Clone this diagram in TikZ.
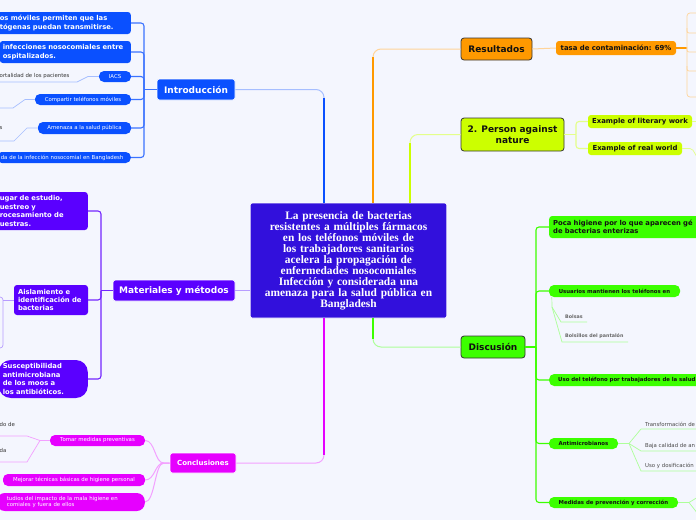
\documentclass[tikz,border=0pt]{standalone}
\usepackage{fontspec}
\usepackage{tikz}
\usetikzlibrary{calc}
\newfontfamily\mapsans{DejaVu Sans}
\newfontfamily\mapserif{Liberation Serif}
\newcommand{\fsz}[2]{\fontsize{#1pt}{#2pt}\selectfont}
\definecolor{paper}{HTML}{F4F6FE}
\definecolor{core}{HTML}{3210DC}
\definecolor{blu}{HTML}{0A50FF}
\definecolor{blul}{HTML}{A6BEFF}
\definecolor{vio}{HTML}{5A00FF}
\definecolor{viol}{HTML}{B79CFF}
\definecolor{mag}{HTML}{E600FF}
\definecolor{magl}{HTML}{F3A0FF}
\definecolor{ora}{HTML}{FF9900}
\definecolor{oral}{HTML}{FFD49A}
\definecolor{yel}{HTML}{CCFF00}
\definecolor{yell}{HTML}{E4FF8A}
\definecolor{grn}{HTML}{3CFF00}
\definecolor{grnl}{HTML}{ADFF99}
\definecolor{ink}{HTML}{111111}
\definecolor{leafgray}{HTML}{4A4A4A}
\tikzset{
  core/.style={fill=core, draw=white, line width=0.8pt, rounded corners=2pt, text=white, font=\mapserif\bfseries\fsz{11.4}{11}, align=center},
  topic/.style={draw=white, line width=0.6pt, rounded corners=2.5pt, inner sep=0pt, text=white, font=\mapsans\bfseries\fsz{9}{10}},
  topicdk/.style={draw=ink!85, line width=0.8pt, rounded corners=3pt, inner sep=0pt, text=ink, font=\mapsans\bfseries\fsz{9}{11}, align=center},
  subbox/.style={rounded corners=3pt, inner xsep=3pt, inner ysep=0pt, text=white, align=left, font=\mapsans\bfseries\fsz{6.8}{8.4}},
  pill/.style={rounded corners=5pt, inner sep=0pt, text=white, font=\mapsans\fsz{5.4}{6.5}},
  pilldk/.style={pill, text=ink, font=\mapsans\bfseries\fsz{5.4}{6.5}},
  tag/.style={rounded corners=3pt, inner sep=0pt, text=ink, font=\mapsans\bfseries\fsz{6.9}{8}},
  leaf/.style={inner sep=0pt, anchor=west, text=leafgray, font=\mapsans\fsz{5.4}{6.5}},
  trunk/.style={line width=1.1pt, rounded corners=3pt},
  twig/.style={line width=0.7pt},
}
\begin{document}
\begin{tikzpicture}[x=1pt,y=-1pt]
  \useasboundingbox (0,0) rectangle (696,520);
  \fill[paper] (0,0) rectangle (696,520);
  \clip (0,0) rectangle (696,520);

  % central topic
  \node[core, minimum width=195pt, minimum height=115pt, text width=190pt] (ctr) at (348.5,260.5)
    {La presencia de bacterias\\resistentes a múltiples fármacos\\en los teléfonos móviles de\\los trabajadores sanitarios\\acelera la propagación de\\enfermedades nosocomiales\\Infección y considerada una\\amenaza para la salud pública en\\Bangladesh};

  % main topics
  \node[topic, fill=blu, minimum width=78pt, minimum height=21pt] (intro) at (196,89.5) {Introducción};
  \node[topic, fill=vio, minimum width=122pt, minimum height=21pt] (mat) at (174,290.5) {Materiales y métodos};
  \node[topic, fill=mag, minimum width=66pt, minimum height=20pt, font=\mapsans\bfseries\fsz{7}{8}] (concl) at (203,463) {Conclusiones};
  \node[topicdk, fill=ora, minimum width=71pt, minimum height=22pt] (res) at (496.5,49) {Resultados};
  \node[topicdk, fill=yel, minimum width=103pt, minimum height=33pt] (pers) at (512.5,134.5) {2. Person against\\nature};
  \node[topicdk, fill=grn, minimum width=64pt, minimum height=22pt] (disc) at (493,347) {Discusión};

  \coordinate (cIn) at ([xshift=-24.5pt]ctr.north);
  \coordinate (cRe) at ([xshift=24.5pt]ctr.north);
  \coordinate (cPe) at ([xshift=61.5pt]ctr.north);
  \coordinate (cCo) at ([xshift=-24.5pt]ctr.south);
  \coordinate (cDi) at ([xshift=24.5pt]ctr.south);
  \draw[blul, line width=1pt, rounded corners=8pt] (cIn) |- (intro.east);
  \draw[blu, line width=1.8pt] (cIn) -- ($(cIn |- intro.east)+(0,8)$);
  \draw[oral, line width=1pt, rounded corners=8pt] (cRe) |- (res.west);
  \draw[ora, line width=1.8pt] (cRe) -- ($(cRe |- res.west)+(0,8)$);
  \draw[yell, line width=1pt, rounded corners=8pt] (cPe) |- (pers.west);
  \draw[yel, line width=1.8pt] (cPe) -- ($(cPe |- pers.west)+(0,8)$);
  \draw[magl, line width=1pt, rounded corners=8pt] (cCo) |- (concl.east);
  \draw[mag, line width=1.8pt] (cCo) -- ($(cCo |- concl.east)+(0,-8)$);
  \draw[grnl, line width=1pt, rounded corners=8pt] (cDi) |- (disc.west);
  \draw[grn, line width=1.8pt] (cDi) -- ($(cDi |- disc.west)+(0,-8)$);
  \draw[viol, line width=1pt] (mat.east) -- (mat.east -| ctr.west);

  % Introduccion
  \node[subbox, fill=blu, anchor=east, text width=128pt, minimum height=22pt] (i1) at (131,23) {os móviles permiten que las\\tógenas puedan transmitirse.};
  \node[subbox, fill=blu, anchor=east, text width=125pt, minimum height=22pt] (i2) at (131,52) {infecciones nosocomiales entre\\ospitalizados.};
  \node[pill, fill=blu, minimum width=32pt, minimum height=11pt] (i3) at (115,76.5) {IACS};
  \node[pill, fill=blu, minimum width=96pt, minimum height=11pt] (i4) at (83,99.5) {Compartir teléfonos móviles};
  \node[pill, fill=blu, minimum width=93pt, minimum height=12pt] (i5) at (84.5,128) {Amenaza a la salud pública};
  \node[pill, fill=blu, anchor=east, text width=126pt, inner xsep=4pt, align=left, minimum height=11pt] (i6) at (131,157.5) {da de la infección nosocomial en Bangladesh};
  \coordinate (iT) at (144,89.5);
  \draw[blu!80, trunk] (intro.west) -- (iT);
  \foreach \k in {i1,i2,i3,i4,i5,i6}
    \draw[blu!80, trunk] (iT) |- (\k.east);
  \coordinate (i3x) at (-5,82);
  \coordinate (i4x) at (-5,108);
  \coordinate (i5x) at (-5,141);
  \draw[blul, twig] (i3.west) -- (88,76.5) -- (77,82) -- (i3x);
  \draw[blul, twig] (i4.west) -- (25,99.5) -- (13,108) -- (i4x);
  \draw[blul, twig] (i5.west) -- (27,128) -- (14,141) -- (i5x);
  \node[leaf, text=ink!85] (i3t) at (-0.5,76.5) {ortalidad de los pacientes};
  \node[leaf, text=ink!85] (i5t) at (-0.5,128) {s};

  % Materiales y metodos
  \node[subbox, fill=vio, anchor=east, text width=85pt, minimum height=38pt] (m1) at (88,211) {ugar de estudio,\\uestreo y\\rocesamiento de\\uestras.};
  \node[subbox, fill=vio, inner xsep=4pt, text width=66pt, minimum height=30pt] (m2) at (51,300) {Aislamiento e\\identificación de\\bacterias};
  \node[subbox, fill=vio, anchor=east, rounded corners=12pt, inner xsep=4pt, text width=81pt, minimum height=38pt] (m3) at (88,379) {Susceptibilidad\\antimicrobiana\\de los moos a\\los antibióticos.};
  \coordinate (mT) at (101,290.5);
  \draw[vio!85, trunk] (mat.west) -- (mT);
  \foreach \k in {m1,m2,m3}
    \draw[vio!85, trunk] (mT) |- (\k.east);
  \coordinate (mB) at (3,300);
  \coordinate (mB1) at (-6,297);
  \coordinate (mB2) at (-6,348);
  \draw[viol, twig] (m2.west) -- (mB);
  \draw[viol, twig, rounded corners=3pt] (mB1) -| (3,348) -- (mB2);

  % Conclusiones
  \node[pill, fill=mag, minimum width=95pt, minimum height=11pt] (c1) at (97.5,440.5) {Tomar medidas preventivas};
  \node[pill, fill=mag, minimum width=142pt, minimum height=12pt] (c2) at (74,480) {Mejorar técnicas básicas de higiene personal};
  \node[pill, fill=mag, anchor=east, rounded corners=8pt, inner xsep=10pt, text width=128pt, align=left, minimum height=18pt] (c3) at (145,502) {tudios del impacto de la mala higiene en\\comiales y fuera de ellos};
  \foreach \k in {c1,c2,c3}
    \draw[magl, line width=1pt] (concl.west) -- ++(-6,0) .. controls +(-9,0) and +(10,0) .. (\k.east);
  \coordinate (cJ) at (40,440.5);
  \coordinate (cx1) at (-5,436);
  \coordinate (cx2) at (-5,462);
  \draw[magl, twig] (c1.west) -- (cJ) -- (27,436) -- (cx1);
  \draw[magl, twig] (cJ) -- (27,462) -- (cx2);
  \node[leaf, text=ink!85] (c1a) at (-0.5,424) {do de};
  \node[leaf, text=ink!85] (c1b) at (-0.5,450) {da};

  % Resultados
  \node[tag, fill=ora, minimum width=120pt, minimum height=14pt] (r1) at (616,48) {tasa de contaminación: 69\%};
  \draw[oral, line width=1pt] (res.east) -- (r1.west);
  \coordinate (rT) at (687,48);
  \coordinate (rA) at (700,13);
  \coordinate (rE) at (700,97);
  \draw[ora, line width=1.1pt] (r1.east) -- (rT);
  \draw[oral, twig, rounded corners=3pt] (rA) -| (rT) |- (rE);
  \foreach \yy in {33,52,71}
    \draw[oral, twig, rounded corners=2pt] (687,\yy-5) |- (700,\yy);

  % Person against nature
  \node[tag, fill=yel, minimum width=104pt, minimum height=13pt] (p1) at (640,121.5) {Example of literary work};
  \node[tag, fill=yel, minimum width=94pt, minimum height=13pt] (p2) at (635,148.5) {Example of real world};
  \coordinate (pT) at (576,134.5);
  \coordinate (pA) at (700,121.5);
  \coordinate (pB) at (697,157);
  \draw[yell, line width=1pt] (pers.east) -- (pT);
  \draw[yell, trunk] (pT) |- (p1.west);
  \draw[yell, trunk] (pT) |- (p2.west);
  \draw[yell, twig] (p1.east) -- (pA);
  \draw[yell, twig, rounded corners=2pt] (p2.east) -- (692,148.5) -- (pB);

  % Discusion
  \node[subbox, fill=grn, text=ink, anchor=west, inner xsep=4pt, text width=170pt, minimum height=22pt] (d1) at (549,227) {Poca higiene por lo que aparecen gé\\de bacterias enterizas};
  \node[pilldk, fill=grn, minimum width=131pt, minimum height=12pt] (d2) at (614.5,291) {Usuarios mantienen los teléfonos en};
  \node[pilldk, fill=grn, anchor=west, inner xsep=9pt, text width=160pt, align=left, minimum height=12pt] (d3) at (549,380) {Uso del teléfono por trabajadores de la salud};
  \node[pilldk, fill=grn, minimum width=69pt, minimum height=11pt] (d4) at (583.5,443.5) {Antimicrobianos};
  \node[pilldk, fill=grn, minimum width=129pt, minimum height=11pt] (d5) at (613.5,502.5) {Medidas de prevención y corrección};
  \coordinate (dT) at (536,347);
  \draw[grn, trunk] (disc.east) -- (dT);
  \foreach \k in {d1,d2,d3,d4,d5}
    \draw[grn, trunk] (dT) |- (\k.west);
  \coordinate (dS) at (552,307);
  \coordinate (d2a) at (587,322);
  \coordinate (d2b) at (628,342);
  \draw[grnl, twig] ([xshift=3pt]d2.south west) -- (dS) -- (561,322) -- (d2a);
  \draw[grnl, twig] (dS) -- (562,342) -- (d2b);
  \node[leaf, text=black!60, font=\mapsans\bfseries\fsz{4.8}{6}] (d2at) at (565,317) {Bolsas};
  \node[leaf, text=black!60, font=\mapsans\bfseries\fsz{4.8}{6}] (d2bt) at (565,336) {Bolsillos del pantalón};
  \coordinate (dJ) at (629,443.5);
  \draw[grnl, twig] (d4.east) -- (dJ);
  \foreach \yy/\nm in {429/dx1,451/dx2,471/dx3} {
    \coordinate (\nm) at (700,\yy);
    \draw[grnl, twig] (dJ) -- (641,\yy) -- (\nm);
  }
  \node[leaf] (d4a) at (645,424) {Transformación de};
  \node[leaf] (d4b) at (645,446) {Baja calidad de an};
  \node[leaf] (d4c) at (645,466) {Uso y dosificación};
  \coordinate (dK) at (689,502.5);
  \coordinate (dK1) at (698,497);
  \coordinate (dK2) at (698,514);
  \draw[grnl, twig] (d5.east) -- (dK) -- (dK1);
  \draw[grnl, twig] (dK) -- (dK2);
\end{tikzpicture}
\end{document}
